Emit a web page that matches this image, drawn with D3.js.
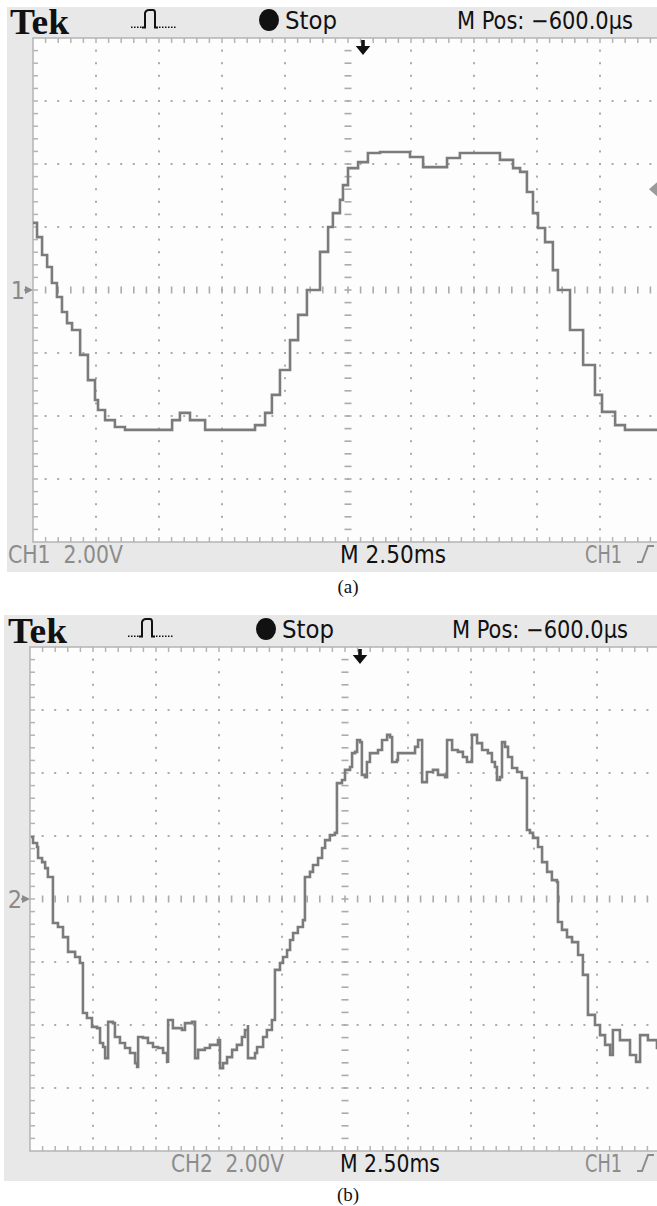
<!DOCTYPE html>
<html>
<head>
<meta charset="utf-8">
<script src="https://cdn.jsdelivr.net/npm/d3@7"></script>
<style>
  html, body { margin: 0; padding: 0; background: #fff; }
  svg { display: block; }
  .lcd { font-family: "Liberation Sans Narrow", "DejaVu Sans Condensed", "Arial Narrow", sans-serif; font-stretch: condensed; white-space: pre; }
</style>
</head>
<body>
<script>
// Scope settings: 10 horizontal divisions at 2.50 ms/div, 8 vertical divisions at 2.00 V/div
const timePerDiv = 2.5;     // ms
const voltPerDiv = 2.0;     // V
const timeDomain = [0, 25]; // ms across the screen
const voltDomain = [-8, 8]; // V, ground marker at centre

// Channel 1 (a): time in ms from left edge, voltage in V
const ch1Time = [0, 0.16, 0.36, 0.56, 0.75, 0.95, 1.15, 1.35, 1.55, 1.87, 2.18, 2.46, 2.58, 2.86, 3.25, 3.65,
  5.04, 5.52, 5.83, 6.23, 6.83, 8.41, 8.81, 9.21, 9.48, 9.80, 10.20, 10.52, 10.87, 11.39, 11.71, 11.90,
  12.18, 12.30, 12.50, 12.90, 13.29, 13.77, 14.56, 14.96, 15.48, 15.87, 16.43, 16.94, 18.02, 18.53,
  19.05, 19.33, 19.60, 19.84, 20.04, 20.32, 20.63, 20.83, 21.31, 21.83, 22.30, 22.58, 23.10, 23.49, 24.76, 25.2];
const ch1Volt = [2.13, 1.68, 1.11, 0.73, 0.22, -0.22, -0.70, -1.05, -1.27, -2.06, -2.86, -3.49, -3.81, -4.13, -4.35, -4.44,
  -4.44, -4.13, -3.90, -4.13, -4.44, -4.44, -4.29, -3.90, -3.33, -2.54, -1.59, -0.79, 0, 1.21, 2.00, 2.44,
  2.86, 3.33, 3.87, 4.06, 4.35, 4.38, 4.38, 4.22, 3.90, 3.90, 4.19, 4.35, 4.35, 4.13,
  3.87, 3.75, 3.11, 2.44, 1.97, 1.52, 0.63, 0, -1.27, -2.38, -3.33, -3.87, -4.29, -4.44, -4.44, -4.44];

// Channel 2 (b)
const ch2Time = [0.04, 0.12, 0.28, 0.32, 0.48, 0.60, 0.71, 0.91, 0.91, 1.11, 1.31, 1.51, 1.51, 1.79, 1.98, 2.10,
  2.10, 2.26, 2.46, 2.66, 2.78, 2.90, 2.98, 3.10, 3.10, 3.29, 3.37, 3.57, 3.77, 3.97, 4.17, 4.25,
  4.29, 4.48, 4.68, 4.88, 5.08, 5.28, 5.44, 5.48, 5.48, 5.67, 5.67, 6.03, 6.15, 6.43, 6.55, 6.67,
  6.94, 7.14, 7.46, 7.54, 7.66, 7.82, 8.02, 8.21, 8.41, 8.53, 8.65, 8.65, 8.93, 9.01, 9.25, 9.40,
  9.60, 9.72, 9.72, 9.92, 10.04, 10.20, 10.32, 10.44, 10.63, 10.83, 10.91, 11.11, 11.23, 11.43, 11.59, 11.71,
  11.90, 12.10, 12.18, 12.38, 12.50, 12.70, 12.78, 12.90, 12.98, 13.10, 13.17, 13.29, 13.37, 13.49, 13.81, 13.97,
  14.17, 14.29, 14.37, 14.56, 14.60, 15.00, 15.28, 15.40, 15.56, 15.75, 15.99, 16.19, 16.47, 16.55, 16.75, 16.98,
  17.18, 17.34, 17.46, 17.54, 17.74, 17.94, 18.17, 18.33, 18.45, 18.53, 18.65, 18.73, 18.85, 18.97, 19.13, 19.33,
  19.52, 19.72, 19.72, 19.84, 19.96, 20.16, 20.32, 20.52, 20.71, 20.91, 20.95, 21.11, 21.31, 21.51, 21.75, 21.94,
  22.14, 22.42, 22.62, 22.82, 23.02, 23.13, 23.41, 23.81, 24.05, 24.21, 24.52, 24.88, 25.2];
const ch2Volt = [1.97, 1.78, 1.65, 1.30, 1.17, 0.98, 0.70, 0.67, -0.76, -0.89, -1.21, -1.52, -1.68, -1.84, -2.03, -2.16,
  -3.62, -3.78, -4.06, -4.10, -4.57, -4.70, -5.05, -5.05, -3.90, -3.94, -4.38, -4.57, -4.73, -4.89, -5.21, -5.33,
  -4.38, -4.41, -4.57, -4.70, -4.73, -4.89, -5.17, -5.21, -3.84, -3.90, -4.10, -4.16, -3.94, -3.90, -5.05, -4.79,
  -4.73, -4.63, -4.48, -5.37, -5.21, -5.02, -4.79, -4.63, -4.38, -4.16, -4.00, -5.05, -4.89, -4.70, -4.38, -4.16,
  -3.84, -3.78, -2.25, -2.03, -1.84, -1.62, -1.30, -1.08, -0.89, -0.67, 0.70, 0.86, 1.08, 1.30, 1.62, 1.87,
  2.03, 2.10, 3.68, 3.78, 4.10, 4.19, 4.63, 4.67, 5.05, 4.98, 3.94, 3.87, 4.35, 4.63, 4.73, 5.05,
  5.21, 5.14, 4.35, 4.41, 4.63, 4.63, 4.83, 5.05, 3.71, 4.03, 4.10, 3.94, 3.87, 5.05, 4.73, 4.67,
  4.51, 4.35, 4.35, 5.21, 4.95, 4.73, 4.63, 4.35, 4.19, 3.78, 3.87, 4.98, 4.83, 4.51, 4.16, 4.03,
  3.84, 3.68, 2.19, 2.10, 1.94, 1.65, 1.17, 0.86, 0.60, 0.54, -0.73, -0.98, -1.21, -1.37, -1.78, -2.41,
  -3.68, -4.00, -4.32, -4.63, -4.95, -4.16, -4.48, -4.95, -5.17, -4.32, -4.48, -4.73, -4.73];

// Readout texts
const headerTexts = { brand: "Tek", state: "Stop", position: "M Pos: \u2212600.0\u00b5s" };
const panelLabels = ["(a)", "(b)"];
const scaleTexts = [
  { ch: "CH1  2.00V", time: "M 2.50ms", trig: "CH1" },
  { ch: "CH2  2.00V", time: "M 2.50ms", trig: "CH1" }
];
const markerTexts = ["1", "2"];

const W = 657, H = 1206;
const svg = d3.select("body").append("svg").attr("width", W).attr("height", H);

const panels = [
  { frame: { x: 7, y: 7, w: 650, h: 565 }, left: 33, top: 38, time: ch1Time, volt: ch1Volt,
    text: scaleTexts[0], marker: markerTexts[0], label: panelLabels[0], labelY: 593,
    head: { tek: 10, pulse: 131, dot: 269, stop: 285, pos: 457, base: 29, arrow: 363 },
    foot: { ch: 8, chW: 115, time: 340, timeW: 106, trig: 585, base: 563 }, trigLevel: 3.2 },
  { frame: { x: 4, y: 615, w: 653, h: 566 }, left: 30, top: 647, time: ch2Time, volt: ch2Volt,
    text: scaleTexts[1], marker: markerTexts[1], label: panelLabels[1], labelY: 1201,
    head: { tek: 8, pulse: 128, dot: 266, stop: 282, pos: 452, base: 638, arrow: 360 },
    foot: { ch: 171, chW: 113, time: 340, timeW: 100, trig: 585, base: 1172 }, trigLevel: null }
];

const div = 63; // pixels per division

panels.forEach(p => {
  const g = svg.append("g");
  const x = d3.scaleLinear().domain(timeDomain).range([p.left, p.left + 10 * div]);
  const y = d3.scaleLinear().domain(voltDomain).range([p.top + 8 * div, p.top]);

  // bezel
  g.append("rect").attr("x", p.frame.x).attr("y", p.frame.y)
    .attr("width", p.frame.w).attr("height", p.frame.h).attr("fill", "#e8e8e8");

  // screen
  g.append("rect").attr("x", x(0)).attr("y", y(8))
    .attr("width", x(25) - x(0)).attr("height", y(-8) - y(8)).attr("fill", "#fdfdfd");

  const gridCol = "#ababab";
  const minorT = d3.range(0, 25.001, timePerDiv / 5);
  const minorV = d3.range(-8, 8.001, voltPerDiv / 5);
  const majorT = d3.range(timePerDiv, 25, timePerDiv).filter(t => Math.abs(t - 12.5) > 1e-6);
  const majorV = d3.range(-8 + voltPerDiv, 8, voltPerDiv).filter(v => Math.abs(v) > 1e-6);
  const grid = g.append("g");

  // dotted vertical lines
  majorT.forEach(t => {
    grid.selectAll(null).data(minorV.slice(1, -1)).enter().append("rect")
      .attr("x", x(t) - 1).attr("y", v => y(v) - 1).attr("width", 2).attr("height", 2).attr("fill", gridCol);
  });
  // dotted horizontal lines
  majorV.forEach(v => {
    grid.selectAll(null).data(minorT.slice(1, -1)).enter().append("rect")
      .attr("x", t => x(t) - 1).attr("y", y(v) - 1).attr("width", 2).attr("height", 2).attr("fill", gridCol);
  });
  // centre horizontal axis with minor marks
  grid.selectAll(null).data(minorT.slice(1, -1)).enter().append("rect")
    .attr("x", t => x(t) - 0.8).attr("y", y(0) - 3.5).attr("width", 1.6).attr("height", 7).attr("fill", gridCol);
  // centre vertical axis with minor marks
  grid.selectAll(null).data(minorV.slice(1, -1)).enter().append("rect")
    .attr("x", x(12.5) - 3.5).attr("y", v => y(v) - 0.8).attr("width", 7).attr("height", 1.6).attr("fill", gridCol);

  // border with inward minor ticks
  grid.append("rect").attr("x", x(0)).attr("y", y(8)).attr("width", x(25) - x(0)).attr("height", y(-8) - y(8))
    .attr("fill", "none").attr("stroke", "#b4b4b4").attr("stroke-width", 1.5);
  grid.selectAll(null).data(minorT.slice(1, -1)).enter().append("line")
    .attr("x1", t => x(t)).attr("x2", t => x(t)).attr("y1", y(8)).attr("y2", y(8) + 5)
    .attr("stroke", "#b4b4b4").attr("stroke-width", 1.5);
  grid.selectAll(null).data(minorT.slice(1, -1)).enter().append("line")
    .attr("x1", t => x(t)).attr("x2", t => x(t)).attr("y1", y(-8)).attr("y2", y(-8) - 5)
    .attr("stroke", "#b4b4b4").attr("stroke-width", 1.5);
  grid.selectAll(null).data(minorV.slice(1, -1)).enter().append("line")
    .attr("x1", x(0)).attr("x2", x(0) + 5).attr("y1", v => y(v)).attr("y2", v => y(v))
    .attr("stroke", "#b4b4b4").attr("stroke-width", 1.5);

  // trace
  const pts = p.time.map((t, i) => [t, p.volt[i]]);
  const line = d3.line().x(d => x(d[0])).y(d => y(d[1])).curve(d3.curveStepAfter);
  g.append("path").attr("d", line(pts)).attr("fill", "none")
    .attr("stroke", "#7b7b7b").attr("stroke-width", 2.6).attr("stroke-linejoin", "miter");

  // header readouts
  const h = p.head;
  g.append("text").attr("x", h.tek).attr("y", h.base + 5)
    .attr("font-family", "Liberation Serif, DejaVu Serif, serif").attr("font-weight", "bold")
    .attr("font-size", 35).attr("textLength", 59).attr("lengthAdjust", "spacingAndGlyphs")
    .attr("fill", "#111").text(headerTexts.brand);

  // acquisition icon: a single pulse between dotted baselines
  const px = h.pulse, pb = h.base - 1;
  const icon = g.append("g").attr("fill", "#111");
  [0, 3, 6, 9].forEach(d => icon.append("rect").attr("x", px + d).attr("y", pb - 1.5).attr("width", 1.5).attr("height", 1.5));
  [28, 31, 34, 37, 40, 43].forEach(d => icon.append("rect").attr("x", px + d).attr("y", pb - 1.5).attr("width", 1.5).attr("height", 1.5));
  g.append("path").attr("d", `M${px + 11},${pb - 0.5} H${px + 14} V${pb - 15} Q${px + 15},${pb - 18} ${px + 18},${pb - 18} H${px + 22} Q${px + 24},${pb - 18} ${px + 24},${pb - 15} V${pb - 0.5} H${px + 27}`)
    .attr("fill", "none").attr("stroke", "#111").attr("stroke-width", 2);

  g.append("ellipse").attr("cx", h.dot).attr("cy", h.base - 9).attr("rx", 10).attr("ry", 11).attr("fill", "#111");
  g.append("text").attr("class", "lcd").attr("x", h.stop).attr("y", h.base)
    .attr("font-size", 24).attr("textLength", 52).attr("lengthAdjust", "spacingAndGlyphs")
    .attr("fill", "#111").text(headerTexts.state);
  g.append("text").attr("class", "lcd").attr("x", h.pos).attr("y", h.base)
    .attr("font-size", 24).attr("textLength", 176).attr("lengthAdjust", "spacingAndGlyphs")
    .attr("fill", "#111").text(headerTexts.position);

  // trigger position arrow
  const ax = h.arrow, ay = y(8);
  g.append("path").attr("d", `M${ax - 1.8},${ay + 2} h3.6 v6 h5.5 l-7.3,9 l-7.3,-9 h5.5 z`).attr("fill", "#111");

  // ground marker
  g.append("text").attr("class", "lcd").attr("x", p.left - 8).attr("y", y(0) + 9).attr("text-anchor", "end")
    .attr("font-size", 25).attr("fill", "#8a8a8a").text(p.marker);
  g.append("path").attr("d", `M${p.left - 8},${y(0) - 4} L${p.left},${y(0)} L${p.left - 8},${y(0) + 4} Z`).attr("fill", "#8a8a8a");
  g.append("line").attr("x1", p.left - 9).attr("x2", p.left - 3).attr("y1", y(0)).attr("y2", y(0))
    .attr("stroke", "#8a8a8a").attr("stroke-width", 1.5);

  // trigger level marker on the right edge
  if (p.trigLevel !== null) {
    const ty = y(p.trigLevel);
    g.append("path").attr("d", `M${W},${ty - 7} L${W - 8},${ty} L${W},${ty + 7} Z`).attr("fill", "#9a9a9a");
  }

  // footer readouts
  const f = p.foot;
  g.append("text").attr("class", "lcd").attr("x", f.ch).attr("y", f.base)
    .attr("font-size", 25).attr("textLength", f.chW).attr("lengthAdjust", "spacingAndGlyphs")
    .attr("fill", "#8c8c8c").text(p.text.ch);
  g.append("text").attr("class", "lcd").attr("x", f.time).attr("y", f.base)
    .attr("font-size", 25).attr("textLength", f.timeW).attr("lengthAdjust", "spacingAndGlyphs")
    .attr("fill", "#111").text(p.text.time);
  g.append("text").attr("class", "lcd").attr("x", f.trig).attr("y", f.base)
    .attr("font-size", 25).attr("textLength", 37).attr("lengthAdjust", "spacingAndGlyphs")
    .attr("fill", "#8c8c8c").text(p.text.trig);
  // rising-edge trigger slope symbol
  g.append("path").attr("d", `M${f.trig + 52},${f.base - 1} h5 l6,-16 h6`)
    .attr("fill", "none").attr("stroke", "#8c8c8c").attr("stroke-width", 2);

  // caption
  svg.append("text").attr("x", 348).attr("y", p.labelY).attr("text-anchor", "middle")
    .attr("font-family", "Liberation Serif, Times New Roman, serif").attr("font-size", 19)
    .attr("fill", "#111").text(p.label);
});
</script>
</body>
</html>
